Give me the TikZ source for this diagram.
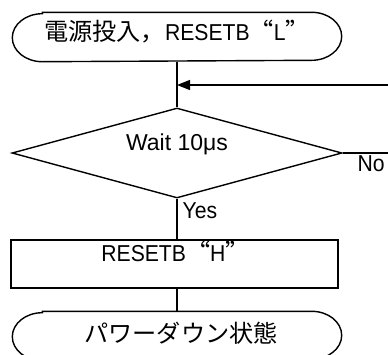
\documentclass[tikz,border=0pt]{standalone}
\usepackage{fontspec}
\setmainfont{Liberation Sans}[FakeStretch=0.92]
\newfontfamily\widelat{Liberation Sans}
\newfontfamily\jp[Scale=1.05]{Noto Sans CJK JP}
\newfontfamily\jpq[Scale=1.05,RawFeature=+fwid]{Noto Sans CJK JP}
\usetikzlibrary{shapes.geometric,arrows.meta}
\begin{document}
\begin{tikzpicture}[x=1pt,y=-1pt,line width=1.4pt,
  txt/.style={font=\fontsize{23}{27}\selectfont,inner sep=0pt,anchor=base},
  termbox/.style={draw=none,minimum width=328pt,minimum height=48pt,inner sep=0pt},
  decision/.style={diamond,draw,minimum width=330pt,minimum height=90pt,inner sep=0pt},
  process/.style={draw,minimum width=327pt,minimum height=48pt,inner sep=0pt}]
\useasboundingbox (0,0) rectangle (388,354);
% top terminator
\node[termbox] (t1) at (177,37) {};
\draw ([xshift=30pt]t1.north west) -- ([xshift=-30pt]t1.north east)
  arc[start angle=90,end angle=-90,x radius=30pt,y radius=24pt]
  -- ([xshift=30pt]t1.south west)
  arc[start angle=270,end angle=90,x radius=30pt,y radius=24pt] -- cycle;
\node[txt] (t1txt) at (177,40) {{\jp 電源投入，}RESETB{\jpq “}L{\jpq ”}};
% decision
\node[decision] (d) at (177,153) {};
\node[txt,font=\fontsize{23}{27}\selectfont\widelat] (dtxt) at (177,150) {Wait 10μs};
% process
\node[process] (r) at (174.5,264) {};
\node[txt] (rtxt) at (175.5,261) {RESETB{\jpq “}H{\jpq ”}};
% bottom terminator
\node[termbox] (t2) at (177,336) {};
\draw ([xshift=30pt]t2.north west) -- ([xshift=-30pt]t2.north east)
  arc[start angle=90,end angle=-90,x radius=30pt,y radius=24pt]
  -- ([xshift=30pt]t2.south west)
  arc[start angle=270,end angle=90,x radius=30pt,y radius=24pt] -- cycle;
\node[txt] (t2txt) at (181,342) {\jp パワーダウン状態};
% labels
\node[txt,anchor=base west] (yes) at (182,218) {Yes};
\node[txt,anchor=base west] (no) at (357,171) {No};
% connectors
\coordinate (in) at (177,85);
\coordinate (loopR) at (392,85);
\coordinate (noR) at (392,153);
\draw (t1.south) -- (d.north);
\draw[-{Triangle[length=13pt,width=10pt]}] (loopR) -- (in);
\draw (d.east) -- (noR);
\draw (d.south) -- (d.south |- r.north);
\draw (r.south -| t2.north) -- (t2.north);
\end{tikzpicture}
\end{document}
